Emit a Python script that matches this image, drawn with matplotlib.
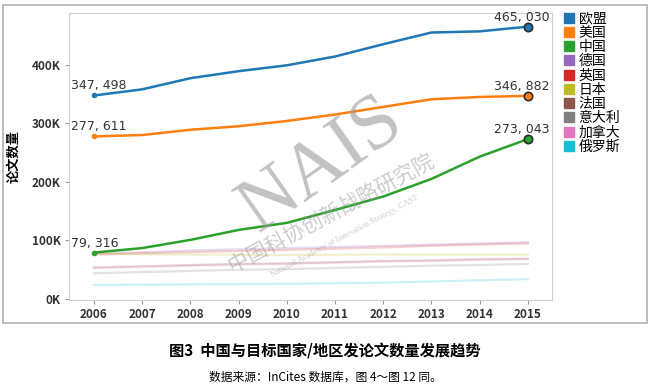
import matplotlib

matplotlib.use("Agg")

import matplotlib.pyplot as plt
from matplotlib.lines import Line2D
from matplotlib.patches import Rectangle

plt.rcParams["font.family"] = ["Noto Sans CJK SC", "DejaVu Sans"]

# =========================
# Data
# =========================
years = [2006, 2007, 2008, 2009, 2010, 2011, 2012, 2013, 2014, 2015]

eu = [347498, 358000, 377000, 389000, 399000, 414000, 435000, 455000, 457000, 465030]
us = [277611, 280000, 289000, 295000, 304000, 315000, 328000, 341000, 345000, 346882]
china = [79316, 87000, 101000, 118000, 130000, 152000, 175000, 205000, 243000, 273043]
germany = [78000, 80000, 83000, 85000, 87000, 89000, 91000, 93000, 95000, 97000]
uk = [76000, 78000, 80000, 82000, 84000, 86000, 88000, 91000, 93000, 95000]
japan = [77000, 76500, 76000, 75500, 75000, 75500, 76000, 76000, 76000, 76000]
france = [54000, 56000, 58000, 60000, 61000, 63000, 65000, 66000, 68000, 69000]
italy = [44000, 46000, 48000, 50000, 51000, 53000, 55000, 57000, 58000, 60000]
canada = [53000, 55000, 57000, 59000, 60000, 62000, 64000, 65000, 67000, 68000]
russia = [24000, 24500, 25000, 25500, 26000, 27000, 28000, 30000, 32000, 34000]

names = ["欧盟", "美国", "中国", "德国", "英国", "日本", "法国", "意大利", "加拿大", "俄罗斯"]
series = [eu, us, china, germany, uk, japan, france, italy, canada, russia]
colors = ["#1f77b4", "#ff7f0e", "#2ca02c", "#9467bd", "#d62728",
          "#bcbd22", "#8c564b", "#7f7f7f", "#e377c2", "#17becf"]

yticks = [0, 100000, 200000, 300000, 400000]
ytick_labels = ["0K", "100K", "200K", "300K", "400K"]

# =========================
# Figure
# =========================
fig = plt.figure(figsize=(6.5, 3.88), dpi=100)
ax = fig.add_axes([0.106, 0.227, 0.743, 0.739])

# minor countries, faded
for vals, c in list(zip(series, colors))[3:]:
    ax.plot(years, vals, color=c, linewidth=1.6, alpha=0.22, zorder=2)

# main series
label_fmt = lambda v: f"{v:,}".replace(",", ", ")
for vals, c in list(zip(series, colors))[:3]:
    ax.plot(years, vals, color=c, linewidth=1.8, zorder=3)
    ax.plot(years[0], vals[0], "o", color=c, markersize=3, zorder=4)
    ax.plot(years[-1], vals[-1], "o", color=c, markersize=6,
            markeredgecolor="#2b2b2b", markeredgewidth=1.2, zorder=4)
    ax.annotate(label_fmt(vals[0]), (years[0], vals[0]), xytext=(-23, 3),
                textcoords="offset pixels", ha="left", va="bottom",
                fontsize=9, color="#333333", family=["DejaVu Sans"])
    ax.annotate(label_fmt(vals[-1]), (years[-1], vals[-1]), xytext=(22, 3),
                textcoords="offset pixels", ha="right", va="bottom",
                fontsize=9, color="#333333", family=["DejaVu Sans"])

# =========================
# Axis
# =========================
ax.set_xlim(2005.48, 2015.5)
ax.set_ylim(-1500, 488000)
ax.set_xticks(years)
ax.set_xticklabels([str(y) for y in years], fontsize=8.5, fontweight="bold", color="#333333")
ax.set_yticks(yticks)
ax.set_yticklabels(ytick_labels, fontsize=8.5, fontweight="bold", color="#333333")
ax.tick_params(axis="both", length=3, color="#999999", pad=3)
ax.set_ylabel("论文数量", fontsize=9.5, fontweight="bold", labelpad=8)
for s in ax.spines.values():
    s.set_color("#d0d0d0")
    s.set_linewidth(0.8)

# =========================
# Legend
# =========================
handles = [Line2D([], [], marker="s", linestyle="none", markersize=7.5, color=c)
           for c in colors]
fig.legend(handles, names, loc="upper left", bbox_to_anchor=(0.856, 0.985),
           frameon=False, fontsize=10, labelspacing=0.02, handletextpad=0.2,
           handlelength=1.0, borderaxespad=0)

# =========================
# Watermark
# =========================
fig.text(0.495, 0.575, "NAIS", fontsize=56, family=["Liberation Serif"], color="#9a9a9a",
         alpha=0.6, rotation=35, ha="center", va="center")
fig.text(0.51, 0.45, "中国科协创新战略研究院", fontsize=15, color="#9a9a9a", alpha=0.5,
         rotation=28, ha="center", va="center")
fig.text(0.53, 0.39, "National Academy of Innovation Strategy, CAST", fontsize=6,
         family=["Liberation Serif"], color="#9a9a9a", alpha=0.5, rotation=28,
         ha="center", va="center")

# outer frame
fig.patches.append(Rectangle((0.005, 0.168), 0.99, 0.82, transform=fig.transFigure,
                             fill=False, edgecolor="#b0b0b0", linewidth=1.2))

# =========================
# Caption
# =========================
fig.text(0.5, 0.093, "图3  中国与目标国家/地区发论文数量发展趋势", fontsize=11,
         fontweight="bold", ha="center", va="center")
fig.text(0.5, 0.027, "数据来源：InCites 数据库，图 4～图 12 同。", fontsize=8.5,
         ha="center", va="center")

fig.savefig("out.png", dpi=100)
